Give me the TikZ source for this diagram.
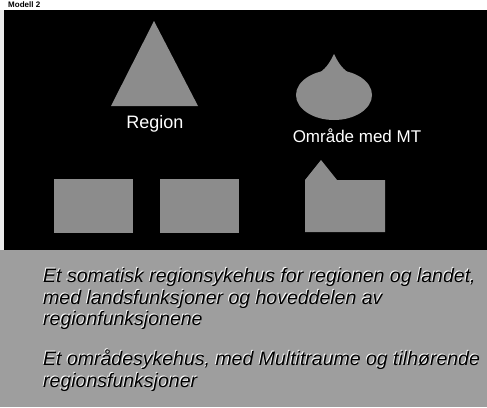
\documentclass[tikz,border=0pt]{standalone}
\usepackage{fontspec}
\setmainfont{Liberation Sans}
\begin{document}
\begin{tikzpicture}[x=1pt,y=-1pt,
  shapefill/.style={fill=black!45},
  lbl/.style={text=white,font=\fontsize{17}{20}\selectfont,inner sep=0pt,anchor=base},
  btxt/.style={text=black,font=\fontsize{19.5}{22}\selectfont\itshape,inner sep=0pt,anchor=base west},
  bshadow/.style={text=white,font=\fontsize{19.5}{22}\selectfont\itshape,inner sep=0pt,anchor=base west}]
\useasboundingbox (0,0) rectangle (487,407);
% backgrounds
\fill[white] (0,0) rectangle (487,407);
\fill[black!8] (0,10) rectangle (4,250);
\fill[black] (4,10) rectangle (487,250);
\fill[black!38] (0,250) rectangle (487,407);
% heading
\node[text=black,font=\fontsize{8}{9}\selectfont\bfseries,inner sep=0pt,anchor=base west] (head) at (8,7.5) {Modell 2};
% region triangle
\fill[shapefill] (154,21) coordinate (tri) -- (111,106) -- (198,106) -- cycle;
\node[lbl,font=\fontsize{18}{20}\selectfont] (region) at (155,128) {Region};
% area ellipse with peak
\fill[shapefill] (334,95) ellipse[x radius=38,y radius=25];
\fill[shapefill] (314,76) .. controls (326,70) and (330,62) .. (334,54) coordinate (peak)
  .. controls (338,62) and (342,70) .. (354,76) -- cycle;
\node[lbl] (omrade) at (357,142) {Område med MT};
% bottom hospitals
\fill[shapefill] (54,179) rectangle (133,233) coordinate (h1);
\fill[shapefill] (160,179) rectangle (239,233) coordinate (h2);
\fill[shapefill] (305,180) -- (321,160) coordinate (h3) -- (337,180) -- (385,180) -- (385,232) -- (305,232) -- cycle;
% bottom text
\foreach \t/\y in {{Et somatisk regionsykehus for regionen og landet,}/282,
                   {med landsfunksjoner og hoveddelen av}/304,
                   {regionfunksjonene}/325,
                   {Et områdesykehus, med Multitraume og tilhørende}/365,
                   {regionsfunksjoner}/387}{
  \node[bshadow] at (42.2,\y-0.8) {\t};
  \node[btxt] at (43,\y) {\t};
}
\end{tikzpicture}
\end{document}
